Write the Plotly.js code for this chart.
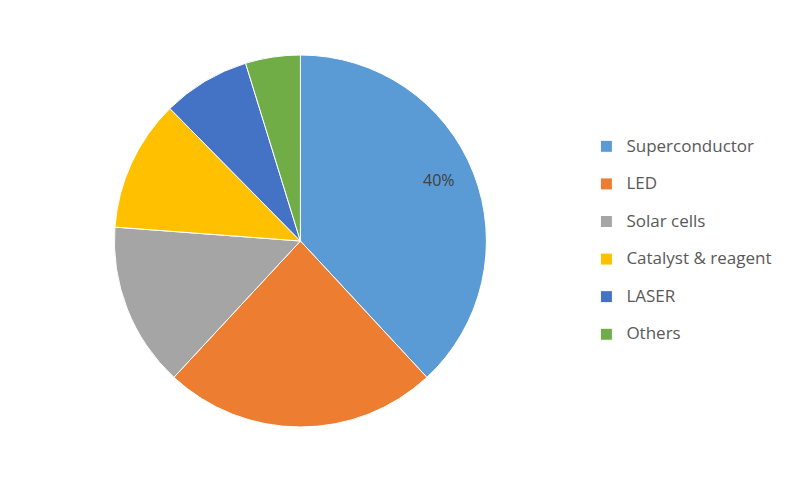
<!DOCTYPE html>
<html>
<head>
<meta charset="utf-8">
<script src="https://cdn.plot.ly/plotly-3.0.1.min.js"></script>
<style>html,body{margin:0;padding:0;background:#fff;}#chart{width:800px;height:482px;}</style>
</head>
<body>
<div id="chart"></div>
<script>
const categories = ["Superconductor", "LED", "Solar cells", "Catalyst & reagent", "LASER", "Others"];
const values = [40, 25, 15, 12, 8, 5];
const colors = ["#5B9BD5", "#ED7D31", "#A5A5A5", "#FFC000", "#4472C4", "#70AD47"];
const dataLabel = values[0] + "%";

const trace = {
  type: "pie",
  labels: categories.map(c => '<span style="font-size:17px">' + c + '</span><br> '),
  values: values,
  textinfo: "none",
  sort: false,
  direction: "clockwise",
  rotation: 0,
  marker: {colors: colors, line: {color: "#ffffff", width: 1}},
  domain: {x: [0.143, 0.608], y: [0.114, 0.886]},
  hoverinfo: "label+percent"
};

const layout = {
  width: 800, height: 482,
  margin: {l: 0, r: 0, t: 0, b: 0},
  paper_bgcolor: "#ffffff",
  showlegend: true,
  legend: {
    x: 0.733, y: 0.483, xanchor: "left", yanchor: "middle",
    valign: "top",
    font: {family: "Open Sans", size: 13.3, color: "#595959"},
    bgcolor: "rgba(0,0,0,0)"
  },
  annotations: [{
    text: dataLabel,
    xref: "paper", yref: "paper",
    x: 0.549, y: 0.6266, xanchor: "center", yanchor: "middle",
    showarrow: false,
    font: {family: "Open Sans", size: 16, color: "#404040"}
  }]
};

Plotly.newPlot("chart", [trace], layout, {displayModeBar: false, staticPlot: true});
</script>
</body>
</html>
